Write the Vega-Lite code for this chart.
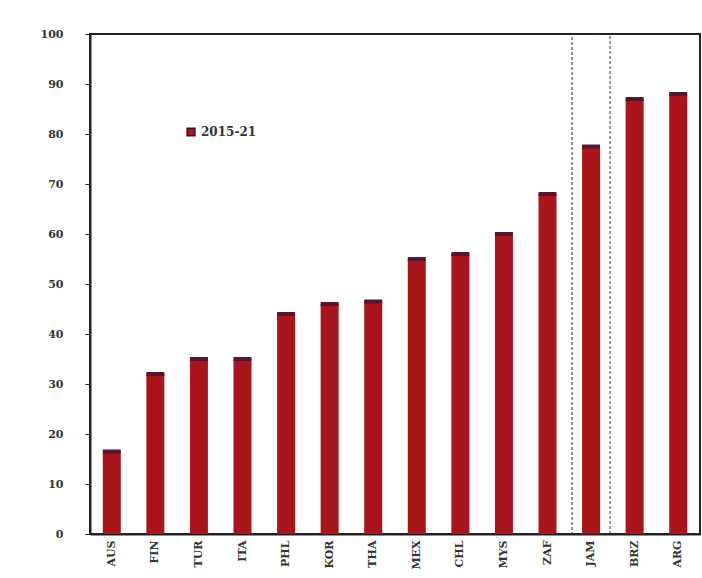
{
  "$schema": "https://vega.github.io/schema/vega-lite/v6.json",
  "width": 702,
  "height": 578,
  "autosize": {"type": "fit", "contains": "padding"},
  "padding": {"left": 40, "top": 28, "right": 2, "bottom": 8},
  "background": "white",
  "data": {
    "values": [
      {"country": "AUS", "period": "2015-21", "value": 16.5},
      {"country": "FIN", "period": "2015-21", "value": 32},
      {"country": "TUR", "period": "2015-21", "value": 35},
      {"country": "ITA", "period": "2015-21", "value": 35},
      {"country": "PHL", "period": "2015-21", "value": 44},
      {"country": "KOR", "period": "2015-21", "value": 46},
      {"country": "THA", "period": "2015-21", "value": 46.5},
      {"country": "MEX", "period": "2015-21", "value": 55},
      {"country": "CHL", "period": "2015-21", "value": 56},
      {"country": "MYS", "period": "2015-21", "value": 60},
      {"country": "ZAF", "period": "2015-21", "value": 68},
      {"country": "JAM", "period": "2015-21", "value": 77.5},
      {"country": "BRZ", "period": "2015-21", "value": 87},
      {"country": "ARG", "period": "2015-21", "value": 88}
    ]
  },
  "config": {
    "view": {"stroke": "#222", "strokeWidth": 2},
    "font": "DejaVu Sans",
    "axis": {"labelFont": "DejaVu Serif", "labelFontWeight": "bold", "labelColor": "#333", "labelFontSize": 11, "grid": false, "domainColor": "#222", "tickColor": "#222", "domainWidth": 2}
  },
  "layer": [
    {
      "mark": {"type": "bar", "width": 18},
      "encoding": {
        "x": {"field": "country", "type": "nominal", "sort": null, "title": null,
              "axis": {"labelAngle": -90, "labelPadding": 6, "ticks": false}},
        "y": {"field": "value", "type": "quantitative", "title": null,
              "scale": {"domain": [0, 100], "nice": false},
              "axis": {"values": [0, 10, 20, 30, 40, 50, 60, 70, 80, 90, 100], "labelPadding": 22, "tickSize": 5}},
        "color": {"field": "period", "type": "nominal", "title": null,
                  "scale": {"range": ["#a8161c"]},
                  "legend": {"orient": "none", "legendX": 95, "legendY": 92, "symbolType": "square", "symbolSize": 60, "labelFont": "DejaVu Serif", "labelFontWeight": "bold", "labelFontSize": 12, "labelColor": "#333",
                             "encode": {"symbols": {"update": {"fill": {"value": "#3a1020"}, "stroke": {"value": "#3a1020"}}}}}}
      }
    },
    {
      "mark": {"type": "tick", "orient": "horizontal", "size": 18, "thickness": 4, "color": "#5a1430", "opacity": 1},
      "encoding": {
        "x": {"field": "country", "type": "nominal", "sort": null},
        "y": {"field": "value", "type": "quantitative"}
      }
    },
    {
      "transform": [{"filter": "datum.country == 'JAM'"}],
      "mark": {"type": "bar", "width": 38, "fillOpacity": 0, "stroke": "#333", "strokeDash": [3, 2], "strokeWidth": 1},
      "encoding": {
        "x": {"field": "country", "type": "nominal", "sort": null},
        "y": {"datum": 100},
        "y2": {"datum": 0}
      }
    }
  ]
}
